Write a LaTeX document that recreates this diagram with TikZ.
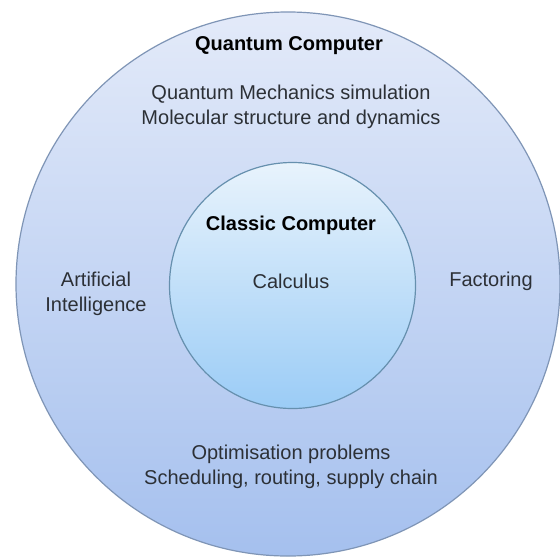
\documentclass[tikz,border=0pt]{standalone}
\usepackage{fontspec}
\setmainfont{Liberation Sans}
\definecolor{qtop}{HTML}{E3EAF9}
\definecolor{qbot}{HTML}{A5C0EE}
\definecolor{qedge}{HTML}{7F95B6}
\definecolor{ctop}{HTML}{E8F3FC}
\definecolor{cbot}{HTML}{9BCCF6}
\definecolor{cedge}{HTML}{6690AE}
\definecolor{ink}{HTML}{2C3036}

\begin{document}
\begin{tikzpicture}[x=0.5pt,y=-0.5pt,
  txt/.style={align=center,text=ink,font=\fontsize{10}{12.8}\selectfont},
  ttl/.style={txt,text=black,font=\fontsize{10}{12.8}\selectfont\bfseries}]
\clip (0,0) rectangle (560,556);
\fill[white] (0,0) rectangle (560,556);
\shade[draw=qedge,line width=0.6pt,top color=qtop,bottom color=qbot] (288,284) circle (136pt);
\shade[draw=cedge,line width=0.6pt,top color=ctop,bottom color=cbot] (292.5,285.5) circle (61.5pt);
\node[ttl] (quantum) at (289,46) {Quantum Computer};
\node[txt] (mechanics) at (291,107) {Quantum Mechanics simulation\\Molecular structure and dynamics};
\node[ttl] (classic) at (291,225) {Classic Computer};
\node[txt] (calculus) at (291,281) {Calculus};
\node[txt] (ai) at (96,294) {Artificial\\Intelligence};
\node[txt] (factoring) at (491,281) {Factoring};
\node[txt] (optim) at (291,467) {Optimisation problems\\Scheduling, routing, supply chain};
\end{tikzpicture}
\end{document}
